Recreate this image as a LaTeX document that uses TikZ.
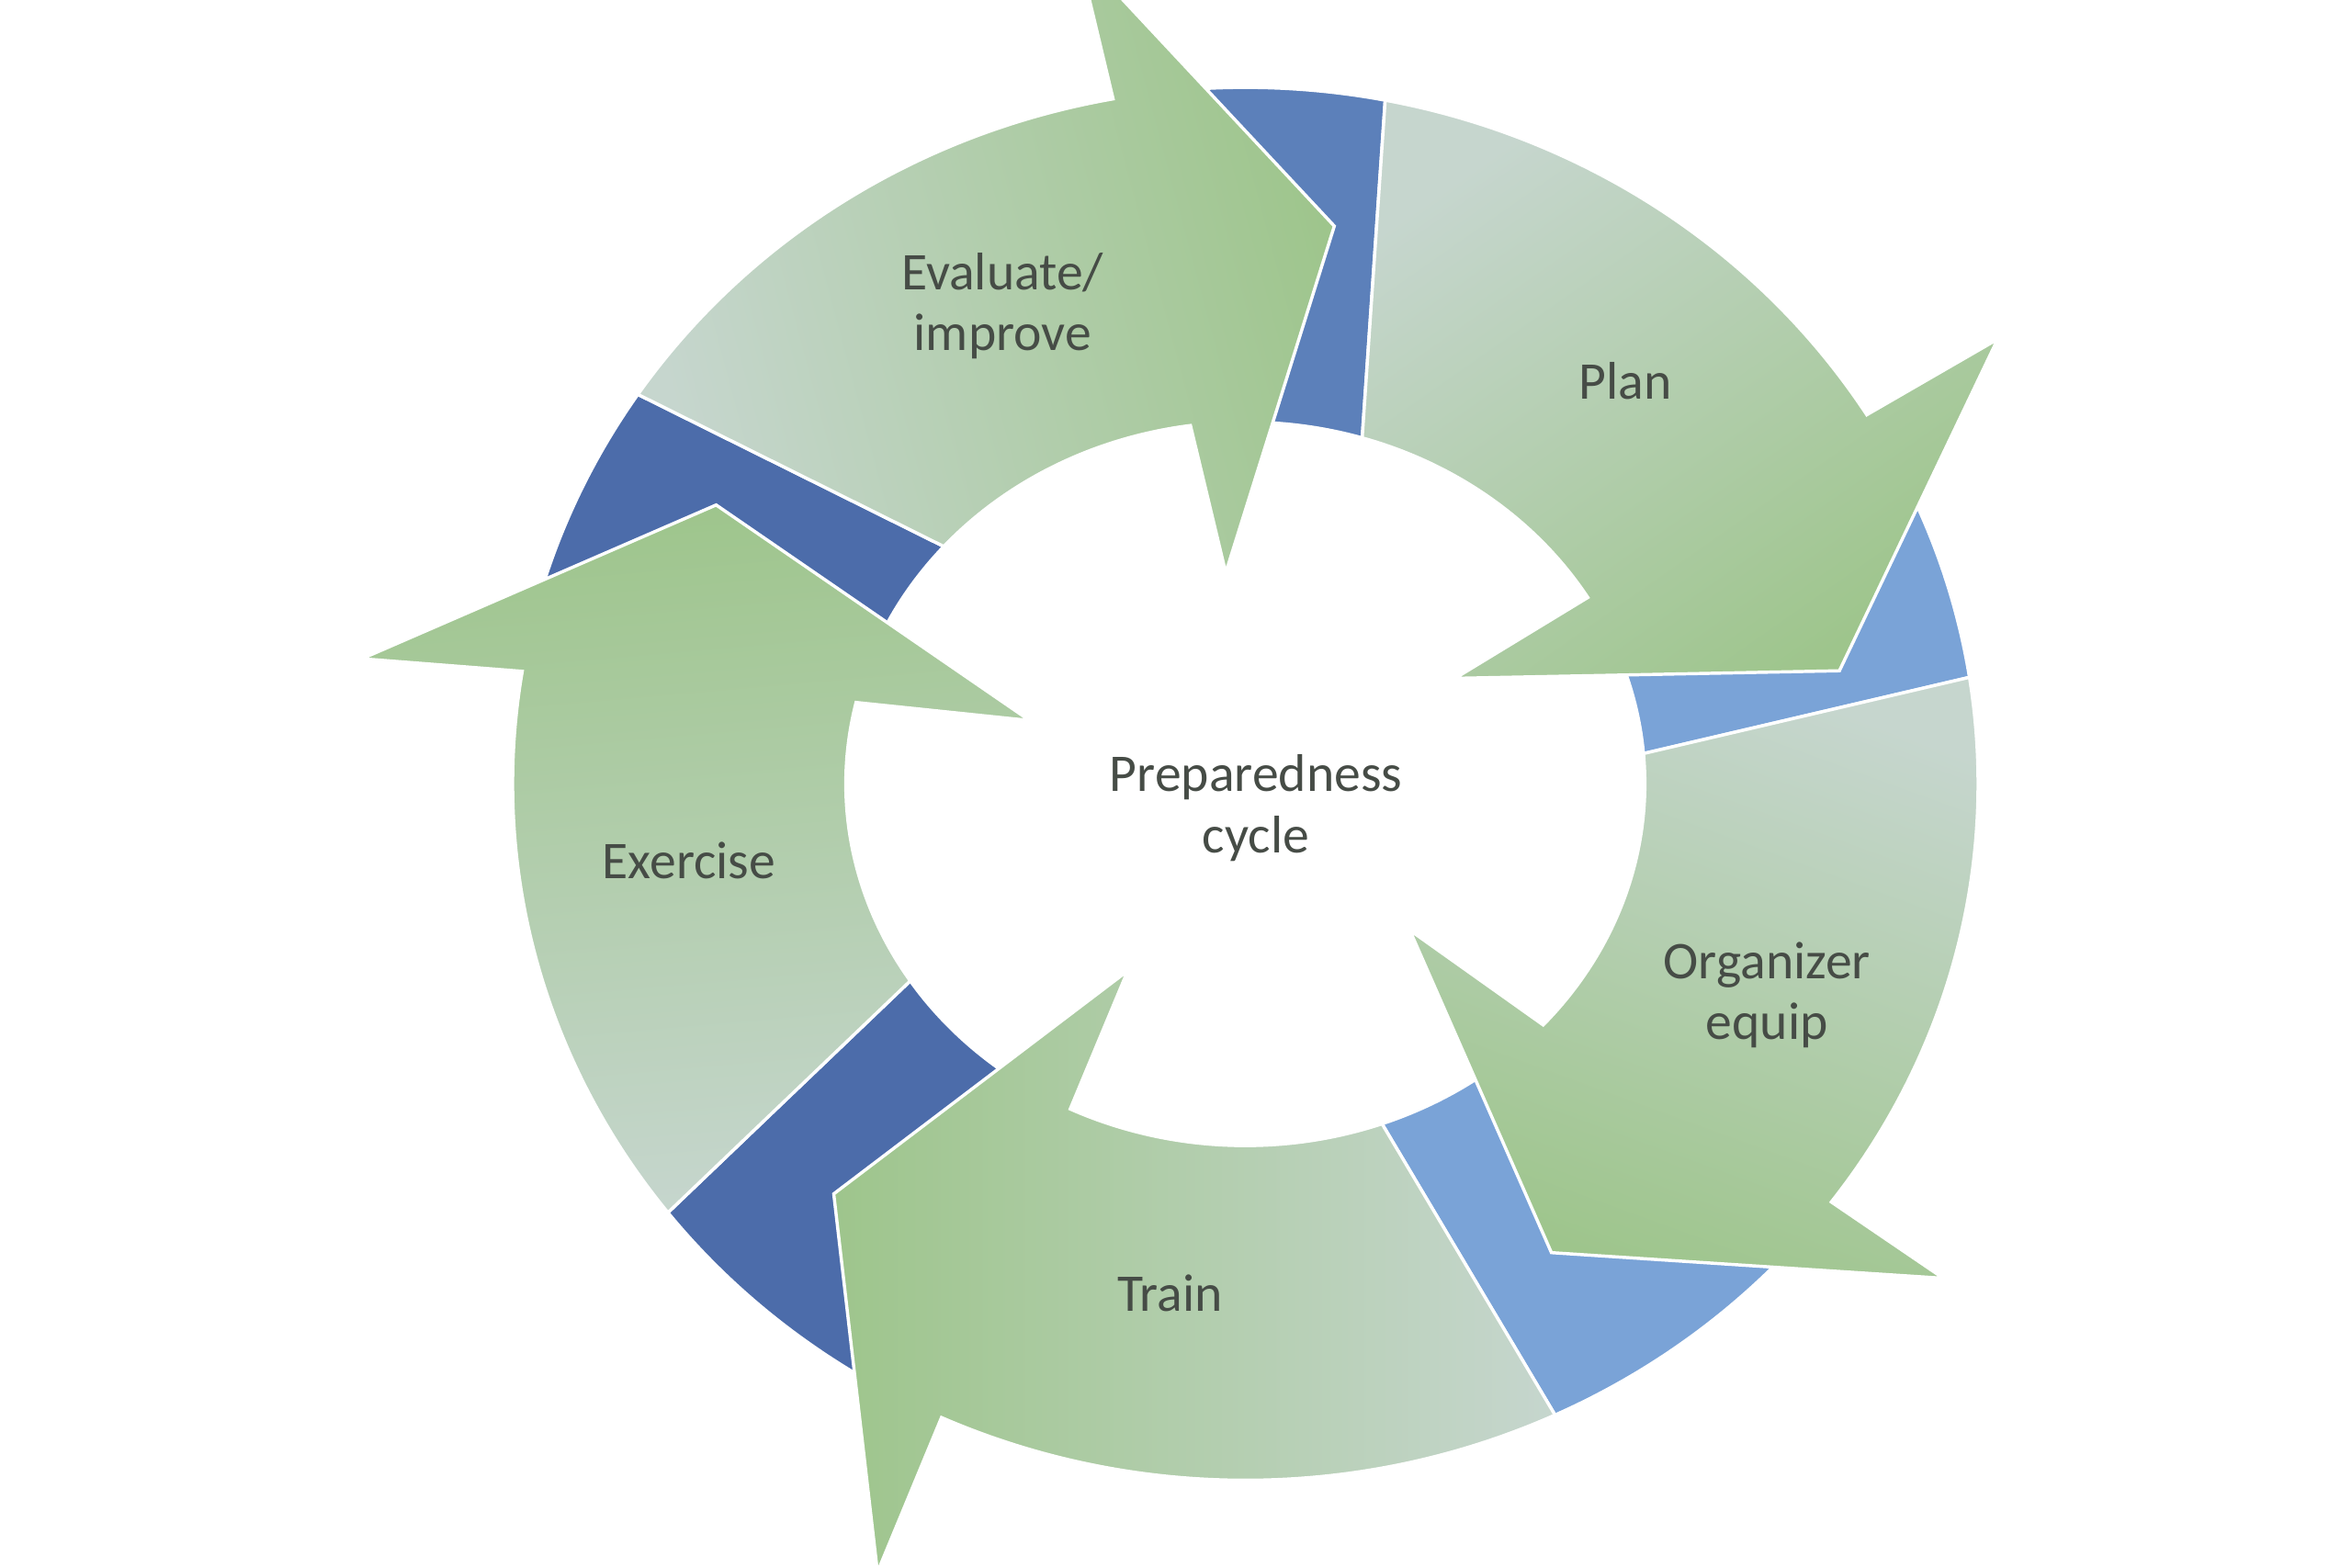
\documentclass[tikz,border=0pt]{standalone}
\usepackage{fontspec}
\setmainfont{Carlito}
\usepackage{xcolor}
\usepackage{tikz}

\definecolor{paleband}{RGB}{198,214,206}
\definecolor{greenhead}{RGB}{158,197,140}
\definecolor{deepblue}{RGB}{76,108,170}
\definecolor{topblue}{RGB}{92,128,186}
\definecolor{skyblue}{RGB}{122,163,215}
\definecolor{labelgrey}{RGB}{70,76,70}

\begin{document}
\begin{tikzpicture}[
	band/.style={draw=white, line width=0.6pt, top color=greenhead, bottom color=paleband, shading angle=#1},
	gap/.style={draw=white, line width=0.6pt, fill=#1},
	stage/.style={align=center, text=labelgrey, font=\fontsize{10}{11.5}\selectfont}
	]
	\useasboundingbox (-8.26,-5.20) rectangle (7.34,5.20);
	
	% blue pieces of the ring, under the arrow heads
	\draw[gap=topblue] (102:4.86 and 4.62) arc[start angle=102, end angle=79, x radius=4.86, y radius=4.62] -- (73:2.65 and 2.40) arc[start angle=73, end angle=99.5, x radius=2.65, y radius=2.40] -- cycle;
	\draw[gap=skyblue] (34:4.86 and 4.62) arc[start angle=34, end angle=8.8, x radius=4.86, y radius=4.62] -- (4.8:2.65 and 2.40) arc[start angle=4.8, end angle=33, x radius=2.65, y radius=2.40] -- cycle;
	\draw[gap=skyblue] (-30:4.86 and 4.62) arc[start angle=-30, end angle=-65, x radius=4.86, y radius=4.62] -- (-70:2.65 and 2.40) arc[start angle=-70, end angle=-36, x radius=2.65, y radius=2.40] -- cycle;
	\draw[gap=deepblue] (-110:4.86 and 4.62) arc[start angle=-110, end angle=-142, x radius=4.86, y radius=4.62] -- (-147:2.65 and 2.40) arc[start angle=-147, end angle=-112, x radius=2.65, y radius=2.40] -- cycle;
	\draw[gap=deepblue] (174:4.86 and 4.62) arc[start angle=174, end angle=146, x radius=4.86, y radius=4.62] -- (139:2.65 and 2.40) arc[start angle=139, end angle=170, x radius=2.65, y radius=2.40] -- cycle;
	
	% the five arrows
	\draw[band=-75] (146:4.86 and 4.62) arc[start angle=146, end angle=100.4, x radius=4.86, y radius=4.62] -- (-1.11,5.52) -- (0.59,3.70) -- (-0.13,1.40) -- (97.9:2.65 and 2.40) arc[start angle=97.9, end angle=139, x radius=2.65, y radius=2.40] -- cycle;
	\draw[band=-145] (79:4.86 and 4.62) arc[start angle=79, end angle=32, x radius=4.86, y radius=4.62] -- (4.99,2.95) -- (3.94,0.75) -- (1.39,0.70) -- (31:2.65 and 2.40) arc[start angle=31, end angle=73, x radius=2.65, y radius=2.40] -- cycle;
	\draw[band=160] (8.8:4.86 and 4.62) arc[start angle=8.8, end angle=-36.9, x radius=4.86, y radius=4.62] -- (4.63,-3.28) -- (2.03,-3.11) -- (1.09,-0.97) -- (-41.8:2.65 and 2.40) arc[start angle=-41.8, end angle=4.8, x radius=2.65, y radius=2.40] -- cycle;
	\draw[band=90] (-65:4.86 and 4.62) arc[start angle=-65, end angle=-114.5, x radius=4.86, y radius=4.62] -- (-2.44,-5.23) -- (-2.73,-2.72) -- (-0.78,-1.24) -- (-116:2.65 and 2.40) arc[start angle=-116, end angle=-70, x radius=2.65, y radius=2.40] -- cycle;
	\draw[band=5] (218:4.86 and 4.62) arc[start angle=218, end angle=170.7, x radius=4.86, y radius=4.62] -- (-5.86,0.83) -- (-3.51,1.85) -- (-1.43,0.42) -- (167:2.65 and 2.40) arc[start angle=167, end angle=213, x radius=2.65, y radius=2.40] -- cycle;
	
	\node[stage] (evaluate) at (-1.61,3.17) {Evaluate/\\improve};
	\node[stage] (plan) at (2.52,2.67) {Plan};
	\node[stage] (organize) at (3.46,-1.40) {Organizer\\equip};
	\node[stage] (train) at (-0.50,-3.38) {Train};
	\node[stage] (exercise) at (-3.69,-0.51) {Exercise};
	\node[stage] (centre) at (0.07,-0.16) {Preparedness\\cycle};

\end{tikzpicture}
\end{document}
